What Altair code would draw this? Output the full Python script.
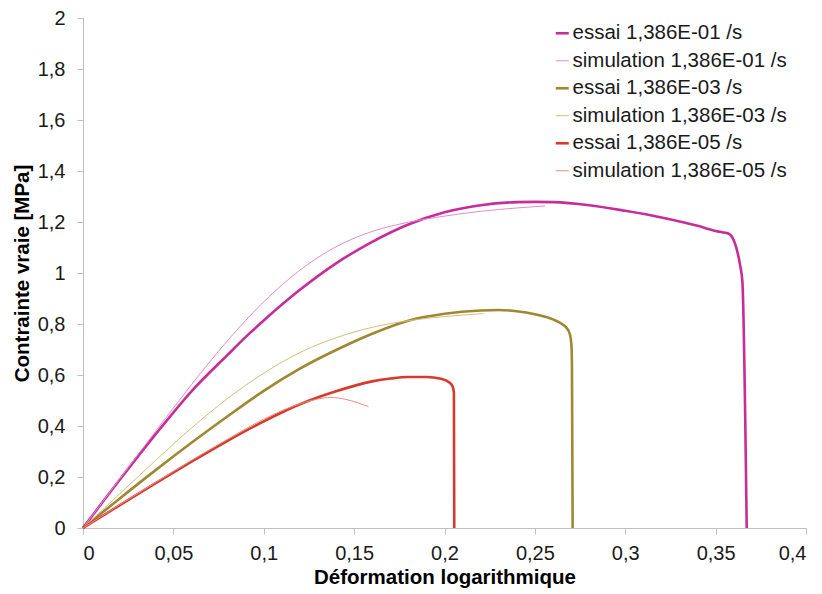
import altair as alt
import pandas as pd

# ---- data ----
series = [
    "essai 1,386E-01 /s",
    "simulation 1,386E-01 /s",
    "essai 1,386E-03 /s",
    "simulation 1,386E-03 /s",
    "essai 1,386E-05 /s",
    "simulation 1,386E-05 /s",
]
colors = ["#C62C9A", "#E48CC8", "#9E8832", "#D2BF7C", "#D63A2C", "#EC8C7E"]
widths = [2.6, 1.0, 2.6, 1.0, 2.6, 1.0]

e1_x = [0, 0.02, 0.04, 0.06, 0.08, 0.0924, 0.10, 0.12, 0.14, 0.16, 0.18, 0.20, 0.22, 0.24, 0.25, 0.26, 0.28, 0.30, 0.32, 0.34, 0.35, 0.3535, 0.357, 0.3607, 0.3635, 0.3648, 0.3672]
e1_y = [0, 0.186, 0.366, 0.536, 0.679, 0.765, 0.814, 0.934, 1.038, 1.122, 1.19, 1.238, 1.266, 1.278, 1.279, 1.278, 1.266, 1.244, 1.218, 1.185, 1.165, 1.160, 1.155, 1.116, 1.032, 0.967, 0]

s1_x = [0, 0.02, 0.04, 0.06, 0.08, 0.10, 0.12, 0.14, 0.16, 0.18, 0.20, 0.22, 0.24, 0.2556]
s1_y = [0, 0.19, 0.378, 0.562, 0.735, 0.887, 1.011, 1.103, 1.163, 1.199, 1.223, 1.242, 1.255, 1.263]

e3_x = [0, 0.02, 0.04, 0.06, 0.08, 0.10, 0.12, 0.14, 0.16, 0.18, 0.20, 0.22, 0.23, 0.24, 0.25, 0.26, 0.265, 0.268, 0.2694, 0.2702, 0.2705, 0.2709]
e3_y = [0, 0.114, 0.226, 0.334, 0.438, 0.538, 0.625, 0.698, 0.762, 0.813, 0.84, 0.853, 0.855, 0.85, 0.838, 0.818, 0.80, 0.78, 0.759, 0.72, 0.65, 0]

s3_x = [0, 0.02, 0.04, 0.06, 0.08, 0.10, 0.12, 0.14, 0.16, 0.18, 0.20, 0.2215]
s3_y = [0, 0.132, 0.264, 0.392, 0.508, 0.607, 0.688, 0.746, 0.787, 0.813, 0.829, 0.841]

e5_x = [0, 0.02, 0.04, 0.06, 0.08, 0.10, 0.12, 0.14, 0.16, 0.17, 0.18, 0.19, 0.198, 0.2025, 0.2045, 0.2052, 0.2054]
e5_y = [0, 0.088, 0.175, 0.26, 0.342, 0.418, 0.485, 0.536, 0.575, 0.586, 0.592, 0.592, 0.585, 0.572, 0.555, 0.53, 0]

s5_x = [0, 0.02, 0.04, 0.06, 0.08, 0.10, 0.11, 0.12, 0.13, 0.137, 0.145, 0.152, 0.1579]
s5_y = [0, 0.09, 0.178, 0.265, 0.348, 0.427, 0.46, 0.487, 0.506, 0.512, 0.505, 0.491, 0.476]

x_ticks = [0, 0.05, 0.1, 0.15, 0.2, 0.25, 0.3, 0.35, 0.4]
y_ticks = [0, 0.2, 0.4, 0.6, 0.8, 1, 1.2, 1.4, 1.6, 1.8, 2]

# ---- build table ----
rows = []
for name, xs, ys in zip(series,
                        [e1_x, s1_x, e3_x, s3_x, e5_x, s5_x],
                        [e1_y, s1_y, e3_y, s3_y, e5_y, s5_y]):
    for i, (a, b) in enumerate(zip(xs, ys)):
        rows.append({"series": name, "i": i, "x": a, "y": b})
df = pd.DataFrame(rows)

FONT = "Liberation Sans"
label_expr = "replace(format(datum.value, '~g'), '.', ',')"

legend = alt.Legend(
    title=None, orient="none", legendX=469, legendY=5,
    symbolType="stroke", symbolSize=169, labelFontSize=20.5, labelFont=FONT,
    labelColor="#1a1a1a", rowPadding=6.5, labelOffset=0, padding=0,
    labelLimit=400,
)

chart = alt.Chart(df).mark_line(interpolate="monotone").encode(
    x=alt.X("x:Q", scale=alt.Scale(domain=[0, 0.4], nice=False, zero=True),
            axis=alt.Axis(values=x_ticks, title="Déformation  logarithmique",
                          labelExpr=label_expr, tickSize=6, labelPadding=9,
                          titlePadding=4)),
    y=alt.Y("y:Q", scale=alt.Scale(domain=[0, 2], nice=False),
            axis=alt.Axis(values=y_ticks, title="Contrainte vraie [MPa]",
                          labelExpr=label_expr, tickSize=6, labelPadding=12,
                          titlePadding=5)),
    color=alt.Color("series:N", scale=alt.Scale(domain=series, range=colors),
                    legend=legend),
    strokeWidth=alt.StrokeWidth("series:N",
                                scale=alt.Scale(type="ordinal", domain=series, range=widths),
                                legend=legend),
    order="i:Q",
).properties(
    width=723, height=510,
    autosize=alt.AutoSizeParams(type="none"),
    padding={"left": 75, "top": 10, "right": 8, "bottom": 60},
).configure_view(
    stroke=None
).configure_axis(
    grid=False, domainColor="#BFBFBF", tickColor="#BFBFBF", domainWidth=1,
    labelFont=FONT, labelFontSize=20, labelColor="#1a1a1a",
    titleFont=FONT, titleFontSize=20.5, titleFontWeight="bold", titleColor="#000000",
)

chart.save("out.html", embed_options={"renderer": "svg", "actions": False})
